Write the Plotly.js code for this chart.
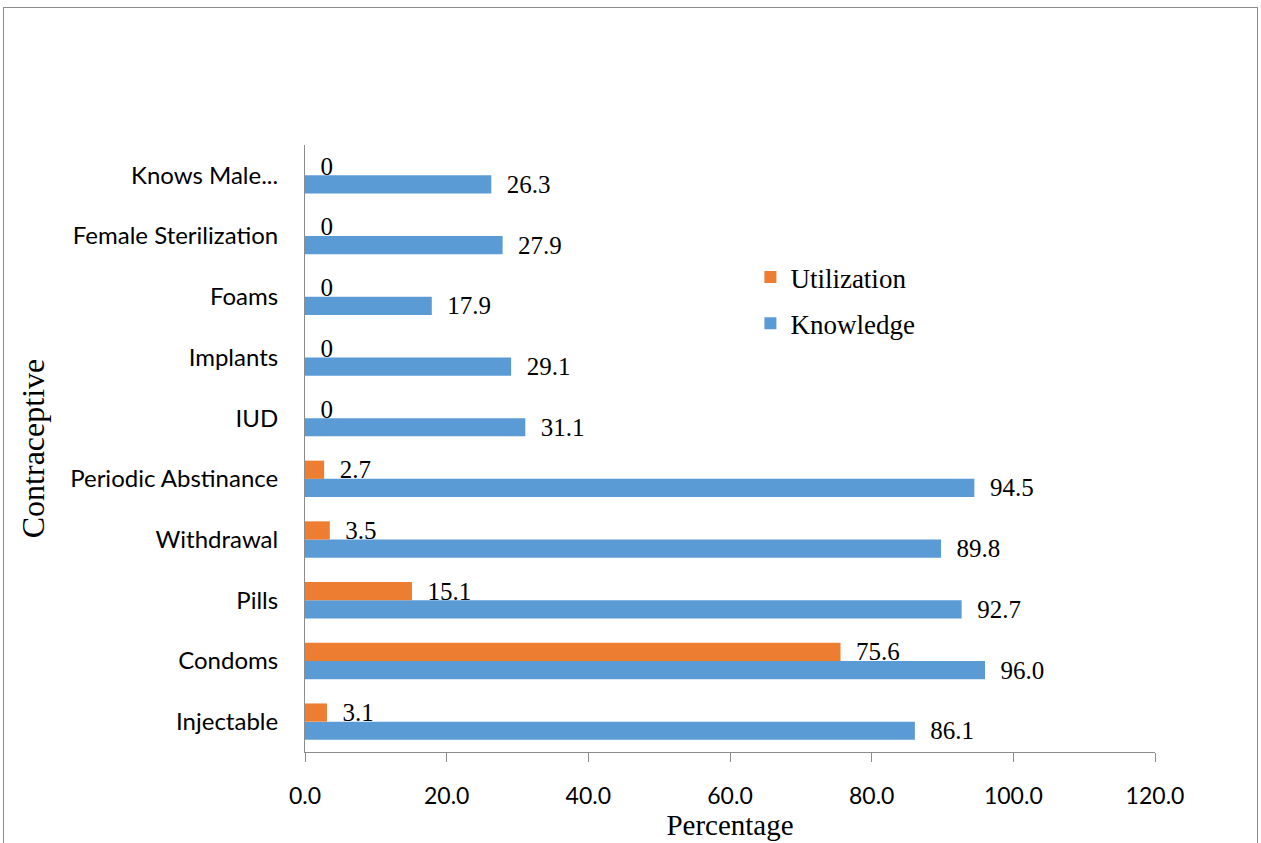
<!DOCTYPE html>
<html>
<head>
<meta charset="utf-8">
<script src="https://cdn.plot.ly/plotly-3.0.1.min.js"></script>
<style>
  html, body { margin: 0; padding: 0; background: #fff; }
  #chart { width: 1261px; height: 843px; }
  #frame { position: absolute; left: 3px; top: 7px; width: 1253px; height: 845px; border: 1px solid #8c8c8c; pointer-events: none; }
</style>
</head>
<body>
<div id="chart"></div>
<div id="frame"></div>
<script>
const categories = ["Injectable", "Condoms", "Pills", "Withdrawal", "Periodic Abstinance", "IUD", "Implants", "Foams", "Female Sterilization", "Knows Male..."];
const knowledge = [86.1, 96.0, 92.7, 89.8, 94.5, 31.1, 29.1, 17.9, 27.9, 26.3];
const utilization = [3.1, 75.6, 15.1, 3.5, 2.7, 0, 0, 0, 0, 0];
const xTicks = [0, 20, 40, 60, 80, 100, 120];

const labelFont = { family: "Liberation Serif, Times New Roman, serif", size: 25, color: "#000" };

const traces = [
  {
    type: "bar", orientation: "h", name: "Knowledge", legendgroup: "k", legendrank: 2,
    y: categories, x: knowledge,
    marker: { color: "#5B9BD5" },
    texttemplate: "  %{x:.1f}", textposition: "outside", cliponaxis: false,
    constraintext: "none",
    textfont: labelFont, hoverinfo: "x+y"
  },
  {
    type: "bar", orientation: "h", name: "Utilization", legendgroup: "u", legendrank: 1,
    y: categories, x: utilization,
    marker: { color: "#ED7D31" },
    texttemplate: "  %{x:.1~f}", textposition: "outside", cliponaxis: false,
    constraintext: "none",
    textfont: labelFont, hoverinfo: "x+y"
  }
];

const layout = {
  width: 1261, height: 843,
  margin: { l: 305, r: 106, t: 145, b: 91, pad: 0 },
  paper_bgcolor: "#fff", plot_bgcolor: "#fff",
  barmode: "group", bargap: 0.4, bargroupgap: 0,
  showlegend: true,
  legend: {
    x: 0.524, y: 0.822, xanchor: "left", yanchor: "top",
    traceorder: "grouped",
    font: { family: "Liberation Serif, Times New Roman, serif", size: 27, color: "#000" },
    itemwidth: 30, tracegroupgap: 8, bgcolor: "rgba(0,0,0,0)"
  },
  xaxis: {
    range: [0, 120], tickvals: xTicks, tickformat: ".1f",
    showgrid: false, zeroline: false,
    showline: true, linecolor: "#8c8c8c", linewidth: 1,
    ticks: "outside", ticklen: 9, tickcolor: "#8c8c8c",
    ticklabelstandoff: 14,
    tickfont: { family: "Lato, Open Sans, sans-serif", size: 23, color: "#000" },
    title: { text: "Percentage", standoff: 0, font: { family: "Liberation Serif, Times New Roman, serif", size: 29, color: "#000" } }
  },
  yaxis: {
    type: "category", categoryorder: "array", categoryarray: categories,
    showgrid: false, zeroline: false,
    showline: true, linecolor: "#8c8c8c", linewidth: 1,
    ticks: "", ticklabelstandoff: 21,
    tickfont: { family: "Lato, Open Sans, sans-serif", size: 24, color: "#000" },
    title: { text: "Contraceptive", standoff: 16, font: { family: "Liberation Serif, Times New Roman, serif", size: 32, color: "#000" } }
  }
};

Plotly.newPlot("chart", traces, layout, { displayModeBar: false, staticPlot: true });
</script>
</body>
</html>
